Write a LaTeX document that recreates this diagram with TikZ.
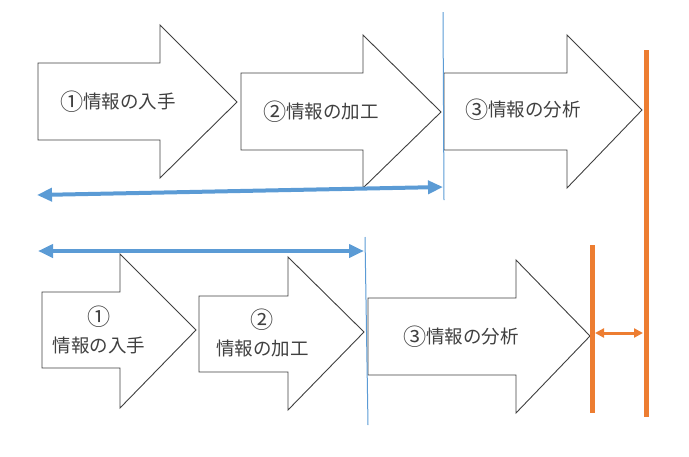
\documentclass[tikz,border=0pt]{standalone}
\usepackage{fontspec}
\usepackage{graphicx}
\setmainfont{Noto Sans CJK JP}
\usetikzlibrary{arrows.meta}
\definecolor{obl}{HTML}{5B9BD5}
\definecolor{oor}{HTML}{ED7D31}
\definecolor{txt}{HTML}{404040}
\newcommand{\circnum}[1]{\raisebox{-0.12em}{\scalebox{1.25}{#1}}}
\tikzset{
  bigarrow/.style={draw=txt, fill=white, line width=0.9pt, line join=miter},
  lbl/.style={text=txt, font=\fontsize{18.5}{30}\selectfont, inner sep=0pt, align=center},
  bluespan/.style={draw=obl, line width=4pt, {Triangle[length=15pt,width=13pt]}-{Triangle[length=15pt,width=13pt]}},
  thinblue/.style={draw=obl, line width=1pt},
  orangebar/.style={draw=oor, line width=5pt},
  orangespan/.style={draw=oor, line width=3pt, {Triangle[length=9pt,width=9pt]}-{Triangle[length=9pt,width=9pt]}}
}
\begin{document}
\begin{tikzpicture}[x=1pt,y=-1pt]
\useasboundingbox (0,0) rectangle (689,456);
% top row arrows
\draw[bigarrow] (38,63) -- (160,63) -- (160,25) -- (237,102) -- (160,178) -- (160,140) -- (38,140) -- cycle;
\draw[bigarrow] (241,73) -- (363,73) -- (363,35) -- (441,112) -- (363,188) -- (363,150) -- (241,150) -- cycle;
\draw[bigarrow] (444,73) -- (567,73) -- (567,35) -- (642,110) -- (567,188) -- (567,150) -- (444,150) -- cycle;
\node[lbl] (t1) at (118,102) {\circnum{①}情報の入手};
\node[lbl] (t2) at (321,112) {\circnum{②}情報の加工};
\node[lbl] (t3) at (523,110) {\circnum{③}情報の分析};
% bottom row arrows
\draw[bigarrow] (42,292) -- (120,292) -- (120,254) -- (196,330) -- (120,408) -- (120,368) -- (42,368) -- cycle;
\draw[bigarrow] (199,296) -- (288,296) -- (288,257) -- (364,332) -- (288,410) -- (288,372) -- (199,372) -- cycle;
\draw[bigarrow] (368,298) -- (516,298) -- (516,260) -- (590,336) -- (516,413) -- (516,375) -- (368,375) -- cycle;
\node[lbl] (b1) at (99,330) {\circnum{①}\\情報の入手};
\node[lbl] (b2) at (262.5,333) {\circnum{②}\\情報の加工};
\node[lbl] (b3) at (461,337) {\circnum{③}情報の分析};
% thin blue markers
\coordinate (m1a) at (443,12);
\coordinate (m1b) at (444,200);
\coordinate (m2a) at (365,237);
\coordinate (m2b) at (368,425);
\draw[thinblue] (m1a) -- (m1b);
\draw[thinblue] (m2a) -- (m2b);
% blue spans
\coordinate (s1a) at (37,195);
\coordinate (s1b) at (443,187);
\coordinate (s2a) at (38,251);
\coordinate (s2b) at (364,251);
\draw[bluespan] (s1a) -- (s1b);
\draw[bluespan] (s2a) -- (s2b);
% orange bars
\coordinate (o1a) at (646,50);
\coordinate (o1b) at (646,417);
\coordinate (o2a) at (592,245);
\coordinate (o2b) at (592,413);
\draw[orangebar] (o1a) -- (o1b);
\draw[orangebar] (o2a) -- (o2b);
\coordinate (oa) at (595,333);
\coordinate (ob) at (643,333);
\draw[orangespan] (oa) -- (ob);
\end{tikzpicture}
\end{document}
